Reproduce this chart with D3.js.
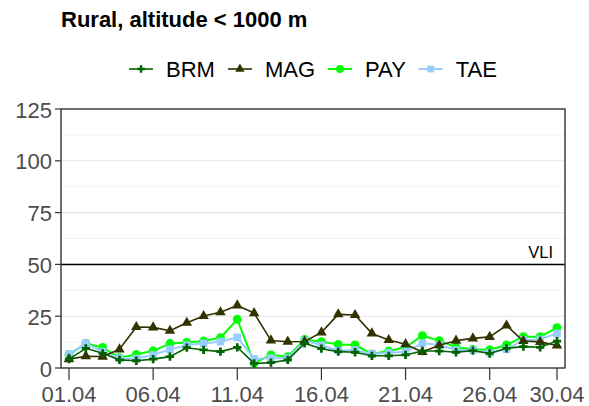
<!DOCTYPE html>
<html>
<head>
<meta charset="utf-8">
<script src="https://cdn.jsdelivr.net/npm/d3@7"></script>
<style>
  html, body { margin: 0; padding: 0; background: #ffffff; }
  svg { display: block; }
  text { font-family: "Liberation Sans", Arial, Helvetica, sans-serif; }
</style>
</head>
<body>
<svg id="chart" width="589" height="406"></svg>
<script>
// ---------- data ----------
const title = "Rural, altitude < 1000 m";
const days = d3.range(1, 31);
const xTickDays = [1, 6, 11, 16, 21, 26, 30];
const xTickLabels = ["01.04", "06.04", "11.04", "16.04", "21.04", "26.04", "30.04"];
const yTicks = [0, 25, 50, 75, 100, 125];
const limitValue = 50;
const limitLabel = "VLI";

const seriesNames = ["BRM", "MAG", "PAY", "TAE"];
const brm = [4.3, 9.5, 7.1, 3.9, 3.5, 4.3, 5.5, 9.8, 8.7, 7.9, 10.0, 2.2, 2.6, 3.9, 11.9, 9.3, 7.9, 7.6, 5.9, 5.9, 6.3, 8.2, 8.2, 7.6, 8.4, 7.0, 9.5, 10.3, 10.0, 13.0];
const mag = [4.3, 5.7, 5.5, 9.0, 19.8, 19.6, 18.0, 21.8, 25.1, 26.9, 30.2, 26.5, 13.3, 12.7, 12.8, 17.2, 25.9, 25.6, 16.7, 13.5, 11.5, 7.7, 11.0, 13.2, 14.3, 15.0, 20.5, 13.0, 12.6, 10.9];
const pay = [6.4, 11.8, 9.9, 5.0, 6.5, 8.3, 11.8, 12.3, 13.0, 14.6, 23.5, 2.4, 6.3, 5.5, 13.8, 12.7, 11.4, 11.1, 6.8, 8.2, 10.0, 15.6, 13.2, 10.0, 9.0, 8.8, 11.1, 15.1, 15.1, 19.5];
const tae = [6.7, 11.9, 7.9, 4.7, 4.6, 6.3, 9.0, 11.0, 11.9, 12.7, 14.8, 4.4, 4.8, 4.7, 13.2, 11.0, 8.4, 8.7, 6.8, 7.4, 7.9, 11.9, 11.1, 8.7, 8.7, 7.3, 9.0, 13.5, 13.8, 16.7];

// ---------- styles ----------
const styles = {
  BRM: { color: "#006400", shape: d3.symbolCross, size: 38, width: 1.6 },
  MAG: { color: "#333300", shape: d3.symbolTriangle, size: 48, width: 1.6 },
  PAY: { color: "#00ff00", shape: d3.symbolCircle, size: 62, width: 2.0 },
  TAE: { color: "#99ccff", shape: d3.symbolSquare, size: 58, width: 2.0 }
};
const valuesByName = { BRM: brm, MAG: mag, PAY: pay, TAE: tae };
const drawOrder = ["PAY", "TAE", "MAG", "BRM"];

// ---------- layout ----------
const panel = { left: 61, right: 565, top: 109, bottom: 368 };
const svg = d3.select("#chart");

const x = d3.scaleLinear().domain([1, 30]).range([69, 557]);
const y = d3.scaleLinear().domain([0, 125]).range([panel.bottom, panel.top]);

// grid lines (every 12.5)
const minorTicks = d3.range(12.5, 125, 25);
svg.append("g").selectAll("line").data(minorTicks).join("line")
  .attr("x1", panel.left).attr("x2", panel.right)
  .attr("y1", d => y(d)).attr("y2", d => y(d))
  .attr("stroke", "#f0f0f0").attr("stroke-width", 0.8);
svg.append("g").selectAll("line").data(yTicks.filter(d => d > 0 && d < 125)).join("line")
  .attr("x1", panel.left).attr("x2", panel.right)
  .attr("y1", d => y(d)).attr("y2", d => y(d))
  .attr("stroke", "#e6e6e6").attr("stroke-width", 1.1);

// limit line
svg.append("line")
  .attr("x1", panel.left).attr("x2", panel.right)
  .attr("y1", y(limitValue)).attr("y2", y(limitValue))
  .attr("stroke", "#000").attr("stroke-width", 1.5);
svg.append("text")
  .attr("x", 553).attr("y", y(limitValue) - 6)
  .attr("text-anchor", "end")
  .attr("font-size", 16.5)
  .attr("fill", "#000")
  .text(limitLabel);

// series
const line = d3.line().x((d, i) => x(days[i])).y(d => y(d));
drawOrder.forEach(name => {
  const st = styles[name];
  const vals = valuesByName[name];
  const g = svg.append("g");
  g.append("path").datum(vals)
    .attr("d", line)
    .attr("fill", "none")
    .attr("stroke", st.color)
    .attr("stroke-width", st.width)
    .attr("stroke-linejoin", "round");
  g.selectAll("path.pt").data(vals).join("path")
    .attr("class", "pt")
    .attr("transform", (d, i) => `translate(${x(days[i])},${y(d)})`)
    .attr("d", d3.symbol().type(st.shape).size(st.size))
    .attr("fill", st.color);
});

// panel border
svg.append("rect")
  .attr("x", panel.left).attr("y", panel.top)
  .attr("width", panel.right - panel.left).attr("height", panel.bottom - panel.top)
  .attr("fill", "none").attr("stroke", "#333").attr("stroke-width", 1.4);

// y axis ticks & labels
const yg = svg.append("g");
yg.selectAll("line").data(yTicks).join("line")
  .attr("x1", panel.left - 6).attr("x2", panel.left)
  .attr("y1", d => y(d)).attr("y2", d => y(d))
  .attr("stroke", "#333").attr("stroke-width", 1.2);
yg.selectAll("text").data(yTicks).join("text")
  .attr("x", 52).attr("y", d => y(d) + 8.6)
  .attr("text-anchor", "end")
  .attr("font-size", 22)
  .attr("fill", "#4d4d4d")
  .text(d => d);

// x axis ticks & labels
const xg = svg.append("g");
xg.selectAll("line").data(xTickDays).join("line")
  .attr("x1", d => x(d)).attr("x2", d => x(d))
  .attr("y1", panel.bottom).attr("y2", panel.bottom + 12)
  .attr("stroke", "#333").attr("stroke-width", 1.2);
xg.selectAll("text").data(xTickDays).join("text")
  .attr("x", d => x(d)).attr("y", 401.5)
  .attr("text-anchor", "middle")
  .attr("font-size", 22)
  .attr("fill", "#4d4d4d")
  .text((d, i) => xTickLabels[i]);

// title
svg.append("text")
  .attr("x", 61).attr("y", 27)
  .attr("font-size", 22)
  .attr("font-weight", "bold")
  .attr("fill", "#000")
  .text(title);

// legend
const legend = svg.append("g");
const keyW = 24, gapKT = 13, gapTK = 13, legendY = 69;
let cursor = 0;
const items = [];
seriesNames.forEach(name => {
  const g = legend.append("g");
  const st = styles[name];
  g.append("line")
    .attr("x1", cursor).attr("x2", cursor + keyW)
    .attr("y1", legendY).attr("y2", legendY)
    .attr("stroke", st.color).attr("stroke-width", st.width);
  g.append("path")
    .attr("transform", `translate(${cursor + keyW / 2},${legendY})`)
    .attr("d", d3.symbol().type(st.shape).size(st.size * 0.8))
    .attr("fill", st.color);
  const t = g.append("text")
    .attr("x", cursor + keyW + gapKT).attr("y", legendY + 8)
    .attr("font-size", 22)
    .attr("fill", "#000")
    .text(name);
  const w = t.node().getComputedTextLength();
  cursor += keyW + gapKT + w + gapTK;
});
const totalW = cursor - gapTK;
const center = (panel.left + panel.right) / 2;
legend.attr("transform", `translate(${center - totalW / 2},0)`);
</script>
</body>
</html>
